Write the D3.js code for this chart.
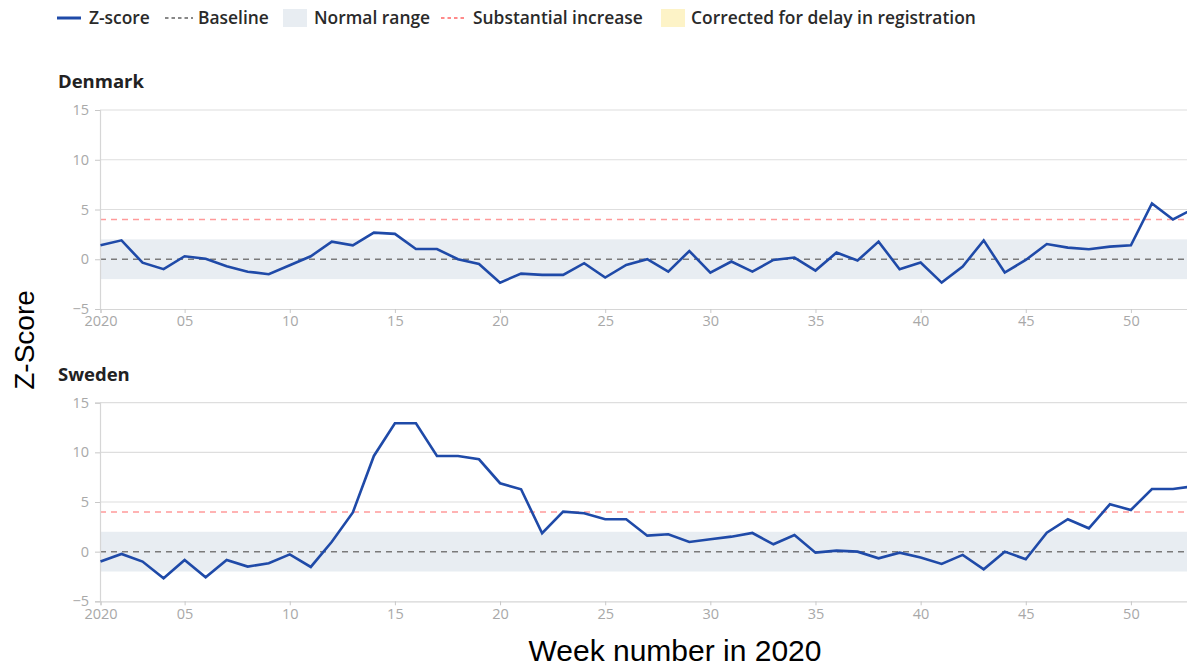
<!DOCTYPE html>
<html>
<head>
<meta charset="utf-8">
<script src="https://cdn.jsdelivr.net/npm/d3@7/dist/d3.min.js"></script>
<style>
  html, body { margin: 0; padding: 0; background: #fff; }
  svg { display: block; }
</style>
</head>
<body>
<svg id="chart" width="1187" height="668"></svg>
<script>
// ---- data ----
const weeks = d3.range(1, 54);
const denmark = [1.4, 1.9, -0.35, -1.0, 0.3, 0.05, -0.7, -1.25, -1.5, -0.6,
  0.3, 1.77, 1.4, 2.67, 2.55, 1.03, 1.03, 0.0, -0.47, -2.35,
  -1.44, -1.57, -1.57, -0.4, -1.84, -0.57, 0.0, -1.24, 0.83, -1.34,
  -0.23, -1.24, -0.07, 0.17, -1.14, 0.67, -0.13, 1.77, -1.0, -0.33,
  -2.35, -0.73, 1.9, -1.34, -0.07, 1.53, 1.17, 1.0, 1.27, 1.4,
  5.6, 4.0, 5.1];
const sweden = [-1.0, -0.23, -1.0, -2.68, -0.84, -2.58, -0.84, -1.5, -1.17, -0.27,
  -1.54, 1.0, 3.95, 9.64, 12.93, 12.93, 9.64, 9.64, 9.3, 6.89,
  6.28, 1.85, 4.03, 3.87, 3.26, 3.26, 1.61, 1.75, 0.98, 1.25,
  1.51, 1.88, 0.74, 1.68, -0.1, 0.1, 0.0, -0.67, -0.1, -0.6,
  -1.24, -0.33, -1.78, 0.0, -0.77, 1.91, 3.26, 2.35, 4.77, 4.2,
  6.31, 6.31, 6.6];
const countries = ["Denmark", "Sweden"];
const seriesValues = [denmark, sweden];
const yTicks = [-5, 0, 5, 10, 15];
const xTickWeeks = [1, 5, 10, 15, 20, 25, 30, 35, 40, 45, 50];
const baseline = 0;
const normalRange = [-2, 2];
const substantialIncrease = 4;
const legendItems = ["Z-score", "Baseline", "Normal range", "Substantial increase", "Corrected for delay in registration"];
const yLabel = "Z-Score";
const xLabel = "Week number in 2020";

// ---- styling ----
const blue = "#1f4aa8";
const svg = d3.select("#chart");
const W = 1187;
const font = "'Open Sans', 'Noto Sans', sans-serif";

const x = d3.scaleLinear().domain([1, 53]).range([100.5, 1194]);

const panels = [
  { top: 110, bottom: 309, titleY: 88 },
  { top: 402.7, bottom: 601.3, titleY: 381 }
];

panels.forEach((p, i) => {
  const y = d3.scaleLinear().domain([-5, 15]).range([p.bottom, p.top]);
  const g = svg.append("g");

  // title
  g.append("text").attr("x", 58).attr("y", p.titleY)
    .attr("font-family", font).attr("font-weight", 700).attr("font-size", 18.5)
    .attr("fill", "#222").text(countries[i]);

  // gridlines
  g.append("g").selectAll("line").data(yTicks.filter(t => t !== 0 && t !== -5)).join("line")
    .attr("x1", 100).attr("x2", W).attr("y1", d => y(d)).attr("y2", d => y(d))
    .attr("stroke", "#dedede").attr("stroke-width", 1.2);

  // normal range band
  g.append("rect").attr("x", 100).attr("width", W - 100)
    .attr("y", y(normalRange[1])).attr("height", y(normalRange[0]) - y(normalRange[1]))
    .attr("fill", "#e8edf2");

  // baseline
  g.append("line").attr("x1", 100).attr("x2", W).attr("y1", y(baseline)).attr("y2", y(baseline))
    .attr("stroke", "#7a7a7a").attr("stroke-width", 1.5).attr("stroke-dasharray", "6,5");

  // substantial increase
  g.append("line").attr("x1", 100).attr("x2", W).attr("y1", y(substantialIncrease)).attr("y2", y(substantialIncrease))
    .attr("stroke", "#ff9a9a").attr("stroke-width", 1.5).attr("stroke-dasharray", "6,5");

  // y axis
  const ya = g.append("g").attr("transform", "translate(100,0)")
    .call(d3.axisLeft(y).tickValues(yTicks).tickSize(5).tickPadding(6));
  ya.attr("font-size", 14.5).attr("font-family", font);
  ya.select(".domain").attr("stroke", "#d6d6d6").attr("stroke-width", 1.2);
  ya.selectAll(".tick line").attr("stroke", "#c8c8c8");
  ya.selectAll(".tick text").attr("fill", "#a8a8a8")
    .text(d => d < 0 ? "\u2212" + Math.abs(d) : d);

  // x axis
  const xa = g.append("g").attr("transform", `translate(0,${p.bottom})`)
    .call(d3.axisBottom(x).tickValues(xTickWeeks).tickSize(4).tickPadding(3));
  xa.attr("font-size", 14.5).attr("font-family", font);
  xa.selectAll(".tick text").text(d => d === 1 ? "2020" : String(d).padStart(2, "0"))
    .attr("fill", "#a8a8a8");
  xa.select(".domain").attr("stroke", "#d6d6d6").attr("stroke-width", 1.2);
  xa.selectAll(".tick line").attr("stroke", "#c8c8c8");

  // z-score line
  const line = d3.line().x((d, j) => x(weeks[j])).y(d => y(d));
  g.append("path").datum(seriesValues[i]).attr("d", line)
    .attr("fill", "none").attr("stroke", blue).attr("stroke-width", 2.6)
    .attr("stroke-linejoin", "miter");
});

// ---- legend ----
const leg = svg.append("g").attr("font-family", font).attr("font-size", 17.4).attr("font-weight", 600).attr("fill", "#2a2a2a");
const ly = 18, tb = 24;
leg.append("line").attr("x1", 57).attr("x2", 81).attr("y1", ly).attr("y2", ly).attr("stroke", blue).attr("stroke-width", 3);
leg.append("text").attr("x", 89).attr("y", tb).text(legendItems[0]);
leg.append("line").attr("x1", 165).attr("x2", 193).attr("y1", ly).attr("y2", ly).attr("stroke", "#888").attr("stroke-width", 2).attr("stroke-dasharray", "3.5,3");
leg.append("text").attr("x", 198).attr("y", tb).text(legendItems[1]);
leg.append("rect").attr("x", 283).attr("y", 9).attr("width", 24).attr("height", 18).attr("fill", "#e8edf2");
leg.append("text").attr("x", 314).attr("y", tb).text(legendItems[2]);
leg.append("line").attr("x1", 441).attr("x2", 467).attr("y1", ly).attr("y2", ly).attr("stroke", "#ff8a8a").attr("stroke-width", 2).attr("stroke-dasharray", "3.5,3");
leg.append("text").attr("x", 473).attr("y", tb).text(legendItems[3]);
leg.append("rect").attr("x", 661).attr("y", 9).attr("width", 24).attr("height", 18).attr("fill", "#fdf3c7");
leg.append("text").attr("x", 691).attr("y", tb).text(legendItems[4]);

// ---- axis titles ----
svg.append("text").attr("transform", "translate(34,340) rotate(-90)")
  .attr("text-anchor", "middle").attr("font-family", "'Liberation Sans', Arial, sans-serif")
  .attr("font-size", 28).attr("fill", "#000").text(yLabel);
svg.append("text").attr("x", 675).attr("y", 661)
  .attr("text-anchor", "middle").attr("font-family", "'Liberation Sans', Arial, sans-serif")
  .attr("font-size", 30).attr("fill", "#000").text(xLabel);
</script>
</body>
</html>
